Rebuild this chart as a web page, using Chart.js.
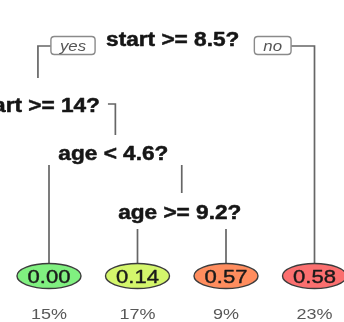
<!DOCTYPE html>
<html><head><meta charset="utf-8">
<script src="https://cdn.jsdelivr.net/npm/chart.js@4/dist/chart.umd.min.js"></script>
<style>html,body{margin:0;padding:0;background:#fff;overflow:hidden}canvas{display:block}</style>
</head><body>
<canvas id="c" width="344" height="322"></canvas>
<script>
// ---- data ----
const splitLabels = ['start >= 8.5?', 'start >= 14?', 'age < 4.6?', 'age >= 9.2?'];
const leafValues = [0.00, 0.00, 0.14, 0.57, 0.58];
const leafPercents = [36, 15, 17, 9, 23];
const branchLabels = ['yes', 'no'];
// children of each split: [yes, no]; 's' = split index, 'l' = leaf index
const splitChildren = [
  [['s', 1], ['l', 4]],
  [['l', 0], ['s', 2]],
  [['l', 1], ['s', 3]],
  [['l', 2], ['l', 3]]
];

// ---- layout / style ----
const leafSlotStart = -39.5, leafSlotStep = 88.5;
const leafCenterY = 276, leafRx = 32, leafRy = 12.5;
const splitBaseline = [46, 112, 160, 219];
const splitBranchY = [46, 104, 165, 229];
const splitTopY = [null, 78, 135, 193];
const splitLabelShift = [-3.5, -1.5, -2, -2];
const leafColors = ['#80f080', '#80f080', '#d4f66c', '#ff8d5e', '#fb6f6f'];
const stretch = 1.16;
const FONT = '"Liberation Sans", Arial, sans-serif';
const splitFont = 'bold 19.5px ' + FONT;
const leafFont = '19px ' + FONT;
const pctFont = '15.5px ' + FONT;
const ynFont = 'italic 14.5px ' + FONT;

const mctx = document.createElement('canvas').getContext('2d');
function tw(text, font) { mctx.font = font; return mctx.measureText(text).width * stretch; }

function leafX(i) { return leafSlotStart + i * leafSlotStep; }
function nodeX(n) {
  if (n[0] === 'l') return leafX(n[1]);
  const ch = splitChildren[n[1]];
  return (nodeX(ch[0]) + nodeX(ch[1])) / 2;
}
function labelX(i) { return nodeX(['s', i]) + splitLabelShift[i]; }
function nodeTop(n) { return n[0] === 'l' ? leafCenterY - leafRy : splitTopY[n[1]]; }

// label extents (text + yes/no boxes for the root)
const ynPad = 9, ynGapL = 11, ynGapR = 15, ynH = 18;
function labelExtent(i) {
  const x = labelX(i);
  const w = tw(splitLabels[i], splitFont);
  let l = x - w / 2, r = x + w / 2;
  if (i === 0) {
    l = l - ynGapL - (tw(branchLabels[0], ynFont) + 2 * ynPad);
    r = r + ynGapR + (tw(branchLabels[1], ynFont) + 2 * ynPad);
  } else { l -= 8; r += 8; }
  return [l, r];
}

// branch segments computed from the tree structure
const segments = [];
splitChildren.forEach((ch, i) => {
  const yb = splitBranchY[i];
  const shoulder = Math.abs(yb - (splitBaseline[i] - 7)) < 10;
  const ext = labelExtent(i);
  ch.forEach((c, k) => {
    const cx = nodeX(c);
    const pts = [];
    if (shoulder) {
      const edge = k === 0 ? ext[0] : ext[1];
      if ((k === 0 && cx < edge) || (k === 1 && cx > edge)) pts.push({x: edge, y: yb});
    }
    pts.push({x: cx, y: yb});
    pts.push({x: cx, y: nodeTop(c)});
    segments.push(pts);
  });
});

function stretchedText(ctx, text, x, y, font, color, heavy) {
  ctx.save();
  ctx.font = font; ctx.fillStyle = color; ctx.strokeStyle = color;
  ctx.textAlign = 'center'; ctx.textBaseline = 'alphabetic';
  ctx.translate(x, y); ctx.scale(stretch, 1);
  ctx.fillText(text, 0, 0);
  if (heavy) { ctx.lineWidth = heavy; ctx.lineJoin = 'round'; ctx.strokeText(text, 0, 0); }
  ctx.restore();
}
function roundRect(ctx, x, y, w, h, r) {
  ctx.beginPath();
  ctx.moveTo(x + r, y); ctx.lineTo(x + w - r, y); ctx.quadraticCurveTo(x + w, y, x + w, y + r);
  ctx.lineTo(x + w, y + h - r); ctx.quadraticCurveTo(x + w, y + h, x + w - r, y + h);
  ctx.lineTo(x + r, y + h); ctx.quadraticCurveTo(x, y + h, x, y + h - r);
  ctx.lineTo(x, y + r); ctx.quadraticCurveTo(x, y, x + r, y); ctx.closePath();
}

const treePlugin = {
  id: 'tree',
  afterDatasetsDraw(chart) {
    const ctx = chart.ctx, xs = chart.scales.x, ys = chart.scales.y;
    const X = v => xs.getPixelForValue(v), Y = v => ys.getPixelForValue(v);
    // split labels
    splitLabels.forEach((lab, i) => {
      stretchedText(ctx, lab, X(labelX(i)), Y(splitBaseline[i]), splitFont, '#161616', 0.5);
    });
    // yes / no boxes on the root
    const rx = labelX(0);
    const rw = tw(splitLabels[0], splitFont);
    const yw = tw(branchLabels[0], ynFont) + 2 * ynPad;
    const nw = tw(branchLabels[1], ynFont) + 2 * ynPad;
    const boxes = [
      [rx - rw / 2 - ynGapL - yw, yw, branchLabels[0]],
      [rx + rw / 2 + ynGapR, nw, branchLabels[1]]
    ];
    boxes.forEach(b => {
      const x0 = X(b[0]), x1 = X(b[0] + b[1]);
      const yc = Y(splitBaseline[0] - 0.5);
      ctx.save();
      roundRect(ctx, x0, yc - ynH / 2, x1 - x0, ynH, 3.5);
      ctx.fillStyle = '#fff'; ctx.fill();
      ctx.strokeStyle = '#8a8a8a'; ctx.lineWidth = 1.4; ctx.stroke();
      ctx.restore();
      stretchedText(ctx, b[2], (x0 + x1) / 2, yc + 5.5, ynFont, '#555555');
    });
    // leaves
    leafValues.forEach((v, i) => {
      const cx = X(leafX(i)), cy = Y(leafCenterY);
      ctx.save();
      ctx.beginPath();
      ctx.ellipse(cx, cy, Math.abs(X(leafX(i) + leafRx) - cx), Math.abs(Y(leafCenterY + leafRy) - cy), 0, 0, Math.PI * 2);
      ctx.fillStyle = leafColors[i]; ctx.fill();
      ctx.strokeStyle = '#3c3c3c'; ctx.lineWidth = 1.4; ctx.stroke();
      ctx.restore();
      stretchedText(ctx, v.toFixed(2), cx, cy + 7, leafFont, '#1a1a1a', 0.4);
      stretchedText(ctx, leafPercents[i] + '%', cx, Y(319), pctFont, '#585858');
    });
  }
};

new Chart(document.getElementById('c'), {
  type: 'scatter',
  data: {
    datasets: segments.map(pts => ({
      data: pts, showLine: true, borderColor: '#666666', borderWidth: 1.7,
      pointRadius: 0, fill: false, tension: 0
    }))
  },
  options: {
    responsive: false, animation: false, devicePixelRatio: 1, events: [],
    layout: { padding: 0 },
    plugins: { legend: { display: false }, tooltip: { enabled: false } },
    scales: {
      x: { type: 'linear', min: 0, max: 344, display: false },
      y: { type: 'linear', min: 0, max: 322, reverse: true, display: false }
    }
  },
  plugins: [treePlugin]
});
</script>
</body></html>
